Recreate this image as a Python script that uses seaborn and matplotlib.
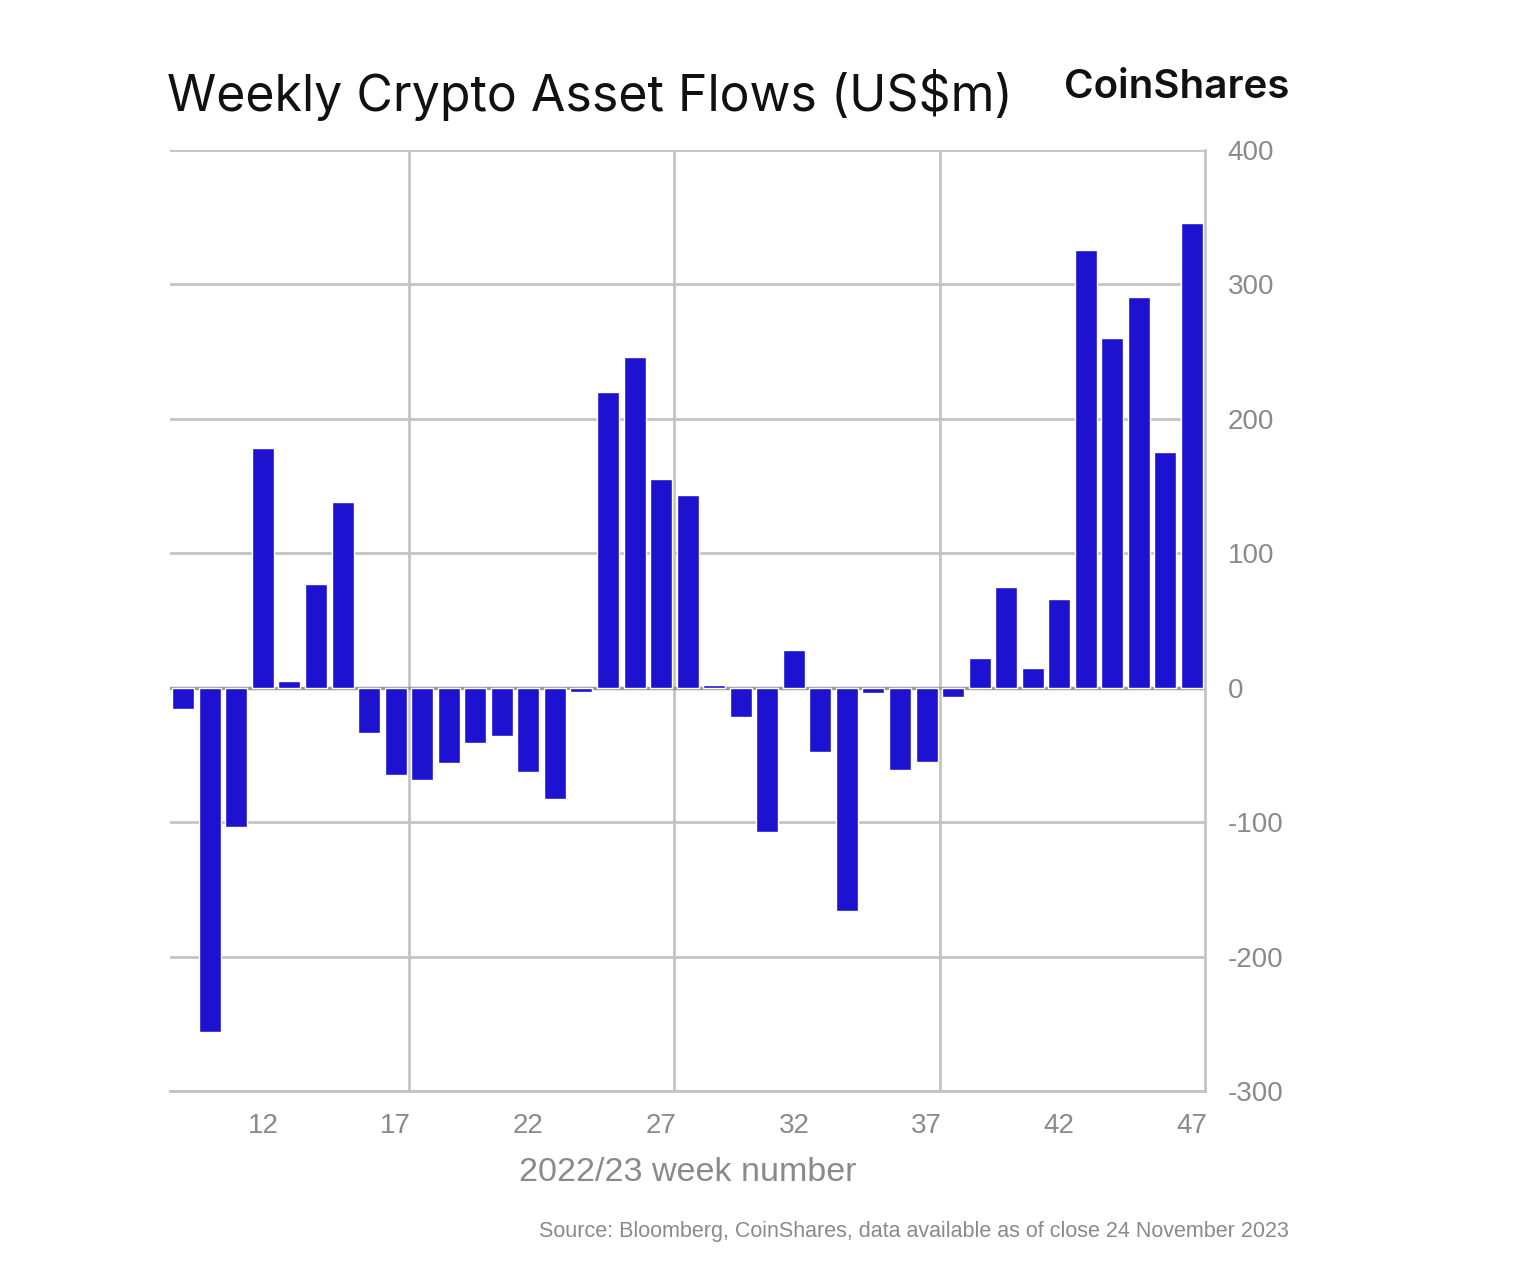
import matplotlib
matplotlib.use("Agg")
import matplotlib.pyplot as plt
import seaborn as sns
import pandas as pd

# weekly flows, weeks 9..47
weeks = [str(w) for w in range(9, 48)]
flows = [-16, -256, -104, 178, 5, 77, 138, -34, -65, -69,
         -56, -41, -36, -63, -83, -3, 220, 246, 155, 143,
         2, -22, -107, 28, -48, -166, -4, -61, -55, -7,
         22, 75, 15, 66, 326, 260, 291, 175, 346]
tick_weeks = ['12', '17', '22', '27', '32', '37', '42', '47']
y_ticks = [400, 300, 200, 100, 0, -100, -200, -300]

df = pd.DataFrame({'week': weeks, 'flow': flows})

sns.set_style("white")
plt.rcParams['font.family'] = ['Liberation Sans', 'DejaVu Sans']

fig = plt.figure(figsize=(15.18, 12.88), dpi=100)
ax = fig.add_axes([0.112, 0.153, 0.682, 0.7305])

sns.barplot(data=df, x='week', y='flow', color='#1c12d0', saturation=1,
            width=0.83, ax=ax, zorder=3)

ax.set_xlim(-0.5, len(weeks) - 0.5)
ax.set_ylim(-300, 400)

grid_c = '#c4c4c4'
for y in y_ticks:
    ax.axhline(y, color=grid_c, lw=2, zorder=1)
ax.axhline(0, color='#9a9a9a', lw=2.5, zorder=2)
for b in [8.5, 18.5, 28.5]:
    ax.axvline(b, color=grid_c, lw=2, zorder=1)

for s in ['top', 'left']:
    ax.spines[s].set_visible(False)
ax.spines['right'].set_color(grid_c)
ax.spines['right'].set_linewidth(2)
ax.spines['bottom'].set_color(grid_c)
ax.spines['bottom'].set_linewidth(2)

ax.yaxis.tick_right()
ax.set_yticks(y_ticks)
ax.set_yticklabels([str(v) for v in y_ticks])
ax.tick_params(axis='y', length=0, labelsize=20, labelcolor='#8a8a8a', pad=16)

ax.set_xticks([weeks.index(w) for w in tick_weeks])
ax.set_xticklabels(tick_weeks)
ax.tick_params(axis='x', length=0, labelsize=20, labelcolor='#8a8a8a', pad=16)

ax.set_xlabel('2022/23 week number', fontsize=24.5, color='#8a8a8a', labelpad=13)
ax.set_ylabel('')

fig.text(0.110, 0.906, 'Weekly Crypto Asset Flows (US$m)', fontsize=36,
         family=['Inter', 'DejaVu Sans'], color='#111111', va='bottom')
fig.text(0.775, 0.918, 'CoinShares', fontsize=29, fontweight='semibold',
         family=['Inter', 'DejaVu Sans'], color='#111111', ha='center', va='bottom')
fig.text(0.849, 0.044, 'Source: Bloomberg, CoinShares, data available as of close 24 November 2023',
         fontsize=15.5, color='#8a8a8a', ha='right', va='center')

fig.savefig('out.png', dpi=100, facecolor='white')
